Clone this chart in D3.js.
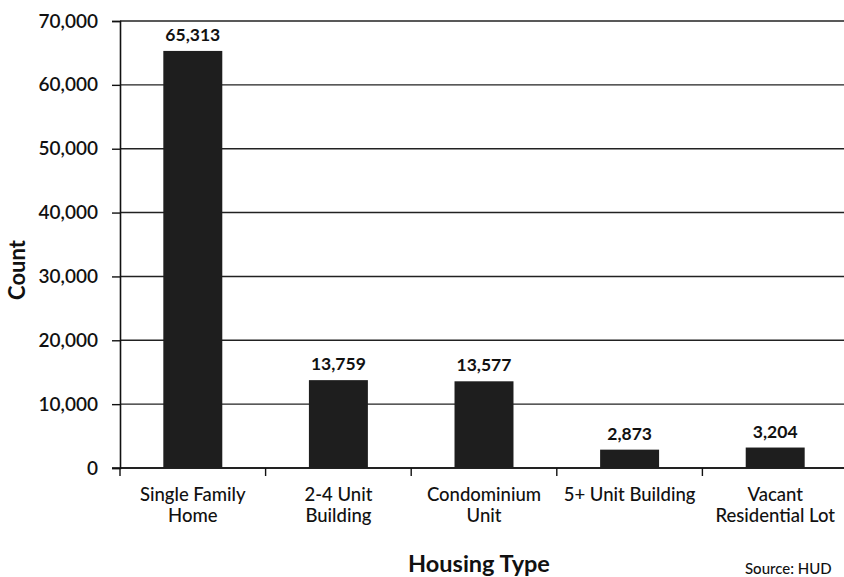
<!DOCTYPE html>
<html>
<head>
<meta charset="utf-8">
<script src="https://cdn.jsdelivr.net/npm/d3@7"></script>
<style>
  body { margin: 0; background: #fff; }
  svg { display: block; }
  text { font-family: Lato, "Open Sans", sans-serif; fill: #111; }
</style>
</head>
<body>
<svg id="chart" width="844" height="577"></svg>
<script>
const categories = [["Single Family", "Home"], ["2-4 Unit", "Building"], ["Condominium", "Unit"], ["5+ Unit Building"], ["Vacant", "Residential Lot"]];
const values = [65313, 13759, 13577, 2873, 3204];
const yTicks = [0, 10000, 20000, 30000, 40000, 50000, 60000, 70000];

const svg = d3.select("#chart");
const mLeft = 120, mRight = 848, mTop = 21, mBottom = 468;

const x = d3.scaleBand().domain(d3.range(categories.length)).range([mLeft, mRight]).padding(0);
const y = d3.scaleLinear().domain([0, 70000]).range([mBottom, mTop]);
const fmt = d3.format(",");

// gridlines
svg.append("g").selectAll("line").data(yTicks).join("line")
  .attr("x1", mLeft).attr("x2", 844)
  .attr("y1", d => y(d)).attr("y2", d => y(d))
  .attr("stroke", "#222").attr("stroke-width", 1.4);

// y axis
const yAxis = svg.append("g").attr("transform", `translate(${mLeft},0)`)
  .call(d3.axisLeft(y).tickValues(yTicks).tickFormat(fmt).tickSize(8).tickPadding(14));
yAxis.select(".domain").attr("stroke", "#111").attr("stroke-width", 1.6);
yAxis.selectAll(".tick line").attr("stroke", "#111").attr("stroke-width", 1.4);
yAxis.selectAll(".tick text").attr("font-size", 19).attr("font-weight", 600)
  .attr("font-family", "Lato, sans-serif").attr("fill", "#111");

// x axis
const xAxis = svg.append("g").attr("transform", `translate(0,${mBottom})`);
xAxis.append("line").attr("x1", mLeft - 8).attr("x2", 844).attr("stroke", "#111").attr("stroke-width", 1.6);
xAxis.selectAll(".xt").data(d3.range(categories.length)).join("line").attr("class", "xt")
  .attr("x1", d => x(d)).attr("x2", d => x(d)).attr("y1", 0).attr("y2", 8)
  .attr("stroke", "#111").attr("stroke-width", 1.4);

// bars
const bw = x.bandwidth() * 0.405;
svg.append("g").selectAll("rect").data(values).join("rect")
  .attr("x", (d, i) => x(i) + (x.bandwidth() - bw) / 2)
  .attr("width", bw)
  .attr("y", d => y(d))
  .attr("height", d => y(0) - y(d))
  .attr("fill", "#1e1e1e");

// value labels
svg.append("g").selectAll("text").data(values).join("text")
  .attr("x", (d, i) => x(i) + x.bandwidth() / 2)
  .attr("y", d => y(d) - 10)
  .attr("text-anchor", "middle")
  .attr("font-size", 17.5).attr("font-weight", 700)
  .text(d => fmt(d));

// category labels
const cl = svg.append("g").selectAll("text").data(categories).join("text")
  .attr("text-anchor", "middle")
  .attr("font-size", 18.5).attr("font-weight", 500);
cl.each(function(lines, i) {
  const t = d3.select(this);
  lines.forEach((ln, j) => {
    t.append("tspan").attr("x", x(i) + x.bandwidth() / 2).attr("y", 501 + j * 21).text(ln);
  });
});

// axis titles
svg.append("text").attr("transform", "translate(25,270) rotate(-90)")
  .attr("text-anchor", "middle").attr("font-size", 22).attr("font-weight", 700).text("Count");
svg.append("text").attr("x", 479).attr("y", 572)
  .attr("text-anchor", "middle").attr("font-size", 23.5).attr("font-weight", 700).text("Housing Type");
svg.append("text").attr("x", 745).attr("y", 574)
  .attr("font-size", 15).attr("font-weight", 500).text("Source: HUD");
</script>
</body>
</html>
